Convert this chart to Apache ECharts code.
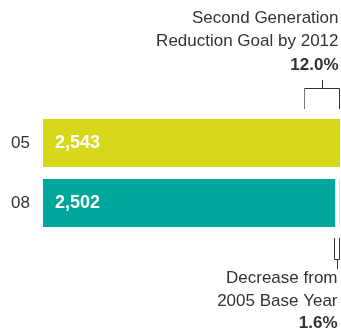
<!DOCTYPE html>
<html>
<head>
<meta charset="utf-8">
<style>
  html, body { margin: 0; padding: 0; background: #fff; }
  #chart { width: 341px; height: 333px; }
</style>
<script src="https://cdn.jsdelivr.net/npm/echarts@6/dist/echarts.min.js"></script>
</head>
<body>
<div id="chart"></div>
<script>
// Emissions by year (05 = base year 2005, 08 = 2008)
var categories = ['05', '08'];
var values = [2543, 2502];
var barColors = ['#d8d81b', '#00a79d'];

// Annotation figures
var goalPct = 12.0;        // reduction goal by 2012, % of base year
var decreasePct = 1.6;     // decrease from 2005 base year, %
var goalLines = ['Second Generation', 'Reduction Goal by 2012'];
var decreaseLines = ['Decrease from', '2005 Base Year'];

var FONT = '"Liberation Sans", Arial, Helvetica, sans-serif';
var INK = '#333';

function fmt(n) {
  return n.toString().replace(/\B(?=(\d{3})+(?!\d))/g, ',');
}

var chart = echarts.init(document.getElementById('chart'), null, { renderer: 'canvas' });

function line(x1, y1, x2, y2, color) {
  return {
    type: 'line',
    shape: { x1: x1, y1: y1, x2: x2, y2: y2 },
    style: { stroke: color || INK, lineWidth: 1 }
  };
}

function text(x, y, str, bold, size) {
  return {
    type: 'text',
    x: x, y: y,
    style: {
      text: str,
      align: 'right',
      verticalAlign: 'middle',
      fill: INK,
      font: (bold ? 'bold ' : '') + size + 'px ' + FONT
    }
  };
}

// Bracket items: [startValue, endValue, categoryIndex, kind]
var base = values[0];
var bracketData = [
  [base * (1 - goalPct / 100), base, 0, 'goal'],
  [values[1], base, 1, 'decrease']
];

function renderBracket(params, api) {
  var start = api.value(0), end = api.value(1), cat = api.value(2);
  var kind = bracketData[params.dataIndex][3];
  var p1 = api.coord([start, cat]);
  var p2 = api.coord([end, cat]);
  var half = 24;
  var x1 = Math.round(p1[0]) + 0.5, x2 = Math.round(p2[0]) - 0.5;
  var xm = Math.round((p1[0] + p2[0]) / 2) + 0.5;
  var right = p2[0] - 1.5;
  var children = [];
  if (kind === 'goal') {
    var top = p1[1] - half;
    var yh = top - 30.5;
    children.push(line(x1, top - 10, x1, yh, '#777'));
    children.push(line(x2, top - 10, x2, yh));
    children.push(line(x1, yh, x2, yh));
    children.push(line(xm, yh, xm, top - 39));
    children.push(text(right, top - 101, goalLines[0], false, 17));
    children.push(text(right, top - 77.5, goalLines[1], false, 17));
    children.push(text(right, top - 54, goalPct.toFixed(1) + '%', true, 17));
  } else {
    var top2 = p1[1] - half, bot = p1[1] + half;
    // faint outline where the base-year value ends
    children.push(line(x2, top2, x2, bot, '#cde9e6'));
    var x1b = Math.round(p1[0]) - 0.5;
    var yb = bot + 32.5;
    children.push(line(x1b, bot + 11, x1b, yb));
    children.push(line(x2, bot + 11, x2, yb));
    children.push(line(x1b, yb, x2, yb));
    var xmb = Math.round((x1b + x2) / 2) + 0.5;
    children.push(line(xmb, yb, xmb, bot + 42));
    children.push(text(right - 1, bot + 51, decreaseLines[0], false, 17));
    children.push(text(right - 1, bot + 74, decreaseLines[1], false, 17));
    children.push(text(right - 1, bot + 96.5, decreasePct.toFixed(1) + '%', true, 17));
  }
  return { type: 'group', children: children };
}

chart.setOption({
  animation: false,
  grid: { left: 43, right: 1, top: 113, height: 120, containLabel: false },
  xAxis: {
    type: 'value', min: 0, max: base, show: false
  },
  yAxis: {
    type: 'category',
    data: categories,
    inverse: true,
    axisLine: { show: false },
    axisTick: { show: false },
    splitLine: { show: false },
    axisLabel: { color: INK, fontSize: 17, fontFamily: FONT, margin: 13 }
  },
  series: [
    {
      type: 'bar',
      barWidth: 48,
      data: values.map(function (v, i) {
        return { value: v, itemStyle: { color: barColors[i] } };
      }),
      label: {
        show: true,
        position: 'insideLeft',
        distance: 12,
        color: '#fff',
        fontWeight: 'bold',
        fontSize: 18,
        fontFamily: FONT,
        formatter: function (p) { return fmt(p.value); }
      },
      z: 2
    },
    {
      type: 'custom',
      coordinateSystem: 'cartesian2d',
      encode: { x: [0, 1], y: 2 },
      data: bracketData.map(function (d) { return d.slice(0, 3); }),
      renderItem: renderBracket,
      clip: false,
      silent: true,
      z: 3
    }
  ]
});
</script>
</body>
</html>
